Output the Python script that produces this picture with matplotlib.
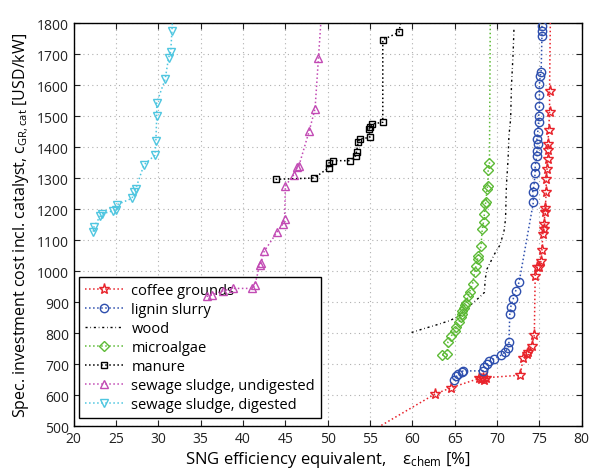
import matplotlib
matplotlib.use("Agg")
import matplotlib.pyplot as plt

plt.rcParams['font.family'] = ['Open Sans', 'DejaVu Sans']
plt.rcParams['mathtext.fontset'] = 'custom'
plt.rcParams['mathtext.rm'] = 'Open Sans'
plt.rcParams['mathtext.it'] = 'Open Sans'

# coffee grounds (red stars)
coffee_x = [55.5, 62.65, 64.5, 67.9, 68.1, 68.3, 68.5, 68.7, 72.7, 73.1, 73.5, 73.7, 74.1, 74.4,
            74.5, 74.7, 75.0, 75.2, 75.3, 75.4, 75.5, 75.5, 75.7, 75.7, 75.8, 75.8, 75.9, 76.0,
            76.0, 76.0, 76.1, 76.2, 76.2, 76.3]
coffee_y = [490, 604, 624, 655, 652, 656, 650, 657, 665, 719, 733, 739, 760, 795,
            986, 1013, 1013, 1034, 1070, 1120, 1136, 1153, 1190, 1203, 1255, 1298, 1330, 1362,
            1392, 1411, 1457, 1513, 1582, 1830]

# lignin slurry (blue circles)
lignin_x = [64.9, 65.2, 65.4, 65.8, 66.0, 68.3, 68.5, 68.8, 69.1, 69.6, 70.5, 70.9, 71.3, 71.4,
            71.5, 71.6, 71.9, 72.2, 72.6, 74.3, 74.2, 74.35, 74.5, 74.5, 74.7, 74.7, 74.8, 74.7,
            74.8, 74.9, 74.9, 75.0, 75.0, 75.0, 75.1, 75.2, 75.3, 75.3, 75.3]
lignin_y = [649, 661, 669, 676, 679, 679, 690, 700, 711, 717, 730, 739, 752, 771,
            862, 884, 911, 937, 965, 1225, 1255, 1276, 1317, 1341, 1373, 1389, 1411, 1427,
            1448, 1481, 1502, 1532, 1569, 1604, 1631, 1642, 1760, 1776, 1792]

# wood (no markers)
wood_x = [59.9, 61.2, 62.8, 64.4, 65.6, 66.75, 67.9, 68.5, 68.6, 68.8, 69.7, 70.3, 70.8, 71.0,
          71.1, 71.3, 71.4, 71.6, 71.7, 71.9, 72.0]
wood_y = [803, 814, 827, 841, 857, 889, 916, 932, 975, 1007, 1056, 1083, 1126, 1169,
          1276, 1362, 1437, 1491, 1599, 1706, 1787]

# microalgae (green diamonds)
algae_x = [63.5, 64.1, 64.2, 64.6, 65.0, 65.2, 65.5, 65.7, 65.8, 65.9, 66.05, 66.2, 66.3, 66.6,
           66.75, 67.1, 67.35, 67.5, 67.7, 67.8, 68.1, 68.25, 68.4, 68.5, 68.6, 68.7, 68.8,
           68.9, 68.95, 69.1, 69.2]
algae_y = [730, 733, 773, 792, 808, 819, 836, 852, 862, 873, 881, 891, 898, 921,
           934, 959, 997, 1016, 1040, 1050, 1081, 1136, 1160, 1185, 1216, 1225, 1266,
           1276, 1328, 1349, 1830]

# manure (black squares)
manure_x = [43.85, 48.4, 50.1, 50.1, 50.6, 52.6, 53.3, 53.4, 53.6, 53.8, 54.95, 54.9, 55.0,
            55.2, 56.5, 56.5, 58.4, 58.8]
manure_y = [1297, 1301, 1334, 1349, 1357, 1357, 1373, 1386, 1418, 1427, 1432, 1459, 1465,
            1475, 1481, 1747, 1771, 1830]

# sewage sludge, undigested (magenta up triangles)
sludge_u_x = [35.7, 36.3, 37.6, 38.8, 41.1, 41.4, 41.96, 42.1, 42.5, 44.0, 44.7, 44.9, 45.0,
              46.0, 46.4, 46.6, 47.8, 48.5, 48.9, 49.25]
sludge_u_y = [919, 924, 937, 945, 945, 957, 1020, 1027, 1065, 1126, 1153, 1169, 1276,
              1312, 1336, 1341, 1452, 1524, 1687, 1830]

# sewage sludge, digested (cyan down triangles)
sludge_d_x = [22.3, 22.4, 23.1, 23.3, 24.6, 25.0, 25.1, 26.9, 27.1, 27.3, 28.3, 29.6, 29.7,
              29.8, 29.8, 30.8, 31.2, 31.45, 31.6, 31.7]
sludge_d_y = [1128, 1144, 1177, 1185, 1195, 1199, 1215, 1236, 1257, 1265, 1344, 1375, 1421,
              1500, 1544, 1620, 1689, 1708, 1776, 1830]

fig = plt.figure(figsize=(5.9, 4.77), dpi=100)
ax = fig.add_axes([0.125, 0.104, 0.861, 0.845])

red = '#e8232b'
blue = '#2e4fae'
green = '#5dba36'
mag = '#c24ab4'
cyan = '#4ec6e0'

ms = 6
ax.plot(coffee_x, coffee_y, ':', color=red, marker='*', mfc='none', mec=red, ms=8, mew=1,
        lw=1.1, label='coffee grounds', markevery=list(range(1, len(coffee_x) - 1)), zorder=5)
ax.plot(lignin_x, lignin_y, ':', color=blue, marker='o', mfc='none', mec=blue, ms=ms, mew=1,
        lw=1.1, label='lignin slurry', zorder=5)
ax.plot(wood_x, wood_y, '-.', color='black', lw=1.0, label='wood', dashes=(1.5, 2, 0.5, 2),
        zorder=5)
ax.plot(algae_x, algae_y, ':', color=green, marker='D', mfc='none', mec=green, ms=5, mew=1,
        lw=1.1, label='microalgae', markevery=list(range(len(algae_x) - 1)), zorder=5)
ax.plot(manure_x, manure_y, ':', color='black', marker='s', mfc='none', mec='black', ms=5,
        mew=1, lw=1.1, label='manure', markevery=list(range(len(manure_x) - 1)), zorder=5)
ax.plot(sludge_u_x, sludge_u_y, ':', color=mag, marker='^', mfc='none', mec=mag, ms=ms, mew=1,
        lw=1.1, label='sewage sludge, undigested', markevery=list(range(len(sludge_u_x) - 1)),
        zorder=5)
ax.plot(sludge_d_x, sludge_d_y, ':', color=cyan, marker='v', mfc='none', mec=cyan, ms=ms,
        mew=1, lw=1.1, label='sewage sludge, digested', markevery=list(range(len(sludge_d_x) - 1)),
        zorder=5)

ax.set_xlim(20, 80)
ax.set_ylim(500, 1800)
ax.set_xticks(range(20, 81, 5))
ax.set_yticks(range(500, 1801, 100))
ax.grid(True, linestyle=(0, (1, 3)), color='#b0b0b0', lw=0.8)
ax.tick_params(direction='in', top=True, right=True, labelsize=10, colors='#222222',
               length=4, width=0.8)
for s in ax.spines.values():
    s.set_linewidth(1.0)

ax.set_xlabel(r'SNG efficiency equivalent,    $\varepsilon_{\mathrm{chem}}$ [%]', fontsize=12,
              labelpad=2)
ax.set_ylabel(r'Spec. investment cost incl. catalyst, $\mathrm{c_{GR,cat}}$ [USD/kW]',
              fontsize=11.5, labelpad=4)

leg = ax.legend(loc='lower left', bbox_to_anchor=(0.01, 0.02), borderaxespad=0,
                fontsize=10.5, fancybox=False, edgecolor='black', framealpha=1,
                handlelength=2.6, numpoints=1, borderpad=0.4, labelspacing=0.28,
                handletextpad=0.6)
leg.get_frame().set_linewidth(1.0)
leg.set_zorder(3)

fig.savefig('out.png', dpi=100)
